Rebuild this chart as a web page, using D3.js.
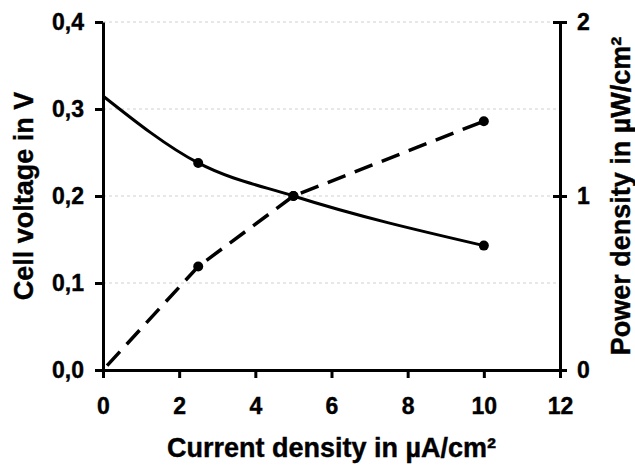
<!DOCTYPE html>
<html>
<head>
<meta charset="utf-8">
<script src="https://cdn.jsdelivr.net/npm/d3@7"></script>
<style>
  html, body { margin: 0; padding: 0; background: #fff; }
  svg text { font-family: "Liberation Sans", Arial, sans-serif; font-weight: bold; fill: #000; stroke: #000; stroke-width: 0.4px; }
</style>
</head>
<body>
<div id="chart"></div>
<script>
// current density in µA/cm²
const current = [0, 2.5, 5, 10];
// cell voltage in V
const voltage = [0.315, 0.238, 0.200, 0.143];
// power density in µW/cm²
const power = [0, 0.595, 1.0, 1.43];
// which points get a marker
const marked = [false, true, true, true];

const xTicks = [0, 2, 4, 6, 8, 10, 12];
const yLeftTicks = [0, 0.1, 0.2, 0.3, 0.4];
const yRightTicks = [0, 1, 2];
const gridTicks = [0.1, 0.2, 0.3, 0.4];

const width = 635, height = 465;
const margin = { top: 22, right: 75, bottom: 95, left: 103 };

const svg = d3.select('#chart').append('svg')
  .attr('width', width)
  .attr('height', height);

const x = d3.scaleLinear().domain([0, 12]).range([margin.left, width - margin.right]);
const yL = d3.scaleLinear().domain([0, 0.4]).range([height - margin.bottom, margin.top]);
const yR = d3.scaleLinear().domain([0, 2]).range([height - margin.bottom, margin.top]);

const fmt = d3.format('.1f');
const comma = (d) => fmt(d).replace('.', ',');

// gridlines
svg.append('g')
  .selectAll('line')
  .data(gridTicks)
  .enter().append('line')
  .attr('x1', x(0))
  .attr('x2', x(12))
  .attr('y1', (d) => yL(d))
  .attr('y2', (d) => yL(d))
  .attr('stroke', '#d0d0d0')
  .attr('stroke-width', 1)
  .attr('stroke-dasharray', '3,3');

// axes
const styleAxis = (g) => {
  g.select('.domain').attr('stroke-width', 3).attr('stroke', '#000');
  g.selectAll('.tick line').attr('stroke-width', 3).attr('stroke', '#000');
  g.selectAll('.tick text').style('font-size', '23px');
};

svg.append('g')
  .attr('transform', `translate(0,${yL(0)})`)
  .call(d3.axisBottom(x).tickValues(xTicks).tickSize(8).tickSizeOuter(0).tickPadding(20))
  .call(styleAxis);

svg.append('g')
  .attr('transform', `translate(${x(0)},0)`)
  .call(d3.axisLeft(yL).tickValues(yLeftTicks).tickFormat(comma).tickSize(8).tickSizeOuter(0).tickPadding(11))
  .call(styleAxis);

const rightAxis = svg.append('g')
  .attr('transform', `translate(${x(12)},0)`)
  .call(d3.axisRight(yR).tickValues(yRightTicks).tickFormat(d3.format('d')).tickSize(7).tickSizeOuter(0).tickPadding(10))
  .call(styleAxis);
rightAxis.selectAll('.tick line').attr('x1', -7);

// lines
const vLine = d3.line()
  .x((d, i) => x(current[i]))
  .y((d) => yL(d))
  .curve(d3.curveMonotoneX);

const pLine = d3.line()
  .x((d, i) => x(current[i]))
  .y((d) => yR(d));

svg.append('path')
  .datum(voltage)
  .attr('fill', 'none')
  .attr('stroke', '#000')
  .attr('stroke-width', 3)
  .attr('d', vLine);

svg.append('path')
  .datum(power)
  .attr('fill', 'none')
  .attr('stroke', '#000')
  .attr('stroke-width', 3.5)
  .attr('stroke-dasharray', '19,10')
  .attr('stroke-dashoffset', -6)
  .attr('d', pLine);

// markers
svg.append('g')
  .selectAll('circle')
  .data(current.filter((d, i) => marked[i]))
  .enter().append('circle')
  .attr('cx', (d) => x(d))
  .attr('cy', (d) => yL(voltage[current.indexOf(d)]))
  .attr('r', 5);

svg.append('g')
  .selectAll('circle')
  .data(current.filter((d, i) => marked[i]))
  .enter().append('circle')
  .attr('cx', (d) => x(d))
  .attr('cy', (d) => yR(power[current.indexOf(d)]))
  .attr('r', 5);

// axis titles
svg.append('text')
  .attr('x', (x(0) + x(12)) / 2)
  .attr('y', 457)
  .attr('text-anchor', 'middle')
  .style('font-size', '27px')
  .text('Current density in µA/cm²');

svg.append('text')
  .attr('transform', `translate(33,${(yL(0) + yL(0.4)) / 2}) rotate(-90)`)
  .attr('text-anchor', 'middle')
  .style('font-size', '27px')
  .text('Cell voltage in V');

svg.append('text')
  .attr('transform', `translate(630,${(yL(0) + yL(0.4)) / 2}) rotate(-90)`)
  .attr('text-anchor', 'middle')
  .style('font-size', '27px')
  .text('Power density in µW/cm²');
</script>
</body>
</html>
